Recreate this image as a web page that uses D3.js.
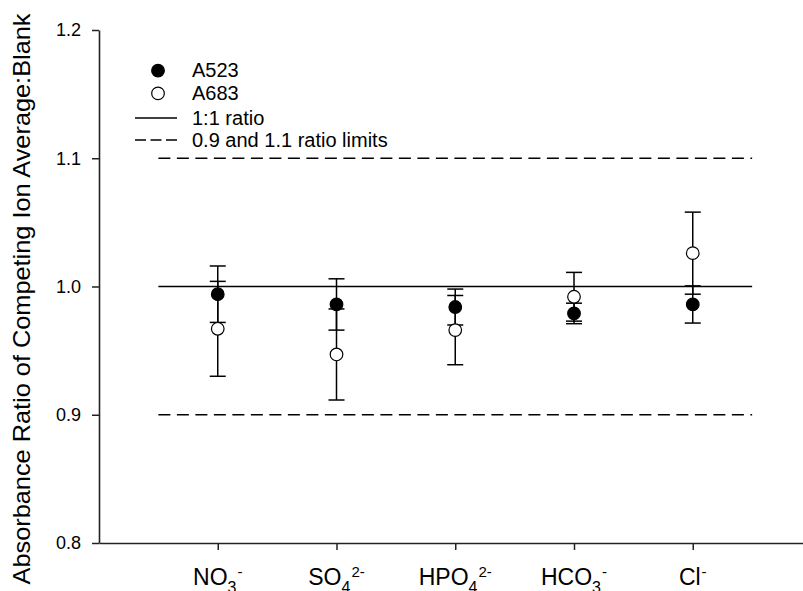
<!DOCTYPE html>
<html>
<head>
<meta charset="utf-8">
<script src="https://cdn.jsdelivr.net/npm/d3@7"></script>
<style>
  body { margin: 0; background: #fff; }
  svg { display: block; font-family: "Liberation Sans", Arial, sans-serif; }
</style>
</head>
<body>
<svg id="chart" width="803" height="591"></svg>
<script>
// categories and their chemical labels
const categories = ["NO3", "SO4", "HPO4", "HCO3", "Cl"];
const labelBase = ["NO", "SO", "HPO", "HCO", "Cl"];
const labelSub = ["3", "4", "4", "3", ""];
const labelSup = ["-", "2-", "2-", "-", "-"];

// A523 (filled) and A683 (open) ratios with error
const a523 = [0.994, 0.986, 0.984, 0.979, 0.986];
const a523Err = [0.022, 0.020, 0.014, 0.008, 0.0145];
const a683 = [0.967, 0.947, 0.966, 0.992, 1.026];
const a683Err = [0.037, 0.0355, 0.027, 0.019, 0.032];

const yTicks = [0.8, 0.9, 1.0, 1.1, 1.2];
const refLines = [
    { value: 1.0, dash: null, label: "1:1 ratio" },
    { value: 0.9, dash: "12,6.5", label: "0.9 and 1.1 ratio limits" },
    { value: 1.1, dash: "12,6.5", label: null }
];

const svg = d3.select("#chart");

const x = d3.scaleLinear().domain([0, 6]).range([99, 811.5]);
const y = d3.scaleLinear().domain([0.8, 1.2]).range([543, 30]);

// reference lines
svg.append("g")
    .selectAll("line")
    .data(refLines)
    .join("line")
    .attr("x1", x(0.5))
    .attr("x2", x(5.5))
    .attr("y1", d => y(d.value))
    .attr("y2", d => y(d.value))
    .attr("stroke", "#000")
    .attr("stroke-width", 1.3)
    .attr("stroke-dasharray", d => d.dash);

// axes
const yAxis = svg.append("g")
    .attr("transform", `translate(${x(0)},0)`)
    .call(d3.axisLeft(y).tickValues(yTicks).tickFormat(d3.format(".1f")).tickSize(7).tickPadding(11).tickSizeOuter(0));

const xAxis = svg.append("g")
    .attr("transform", `translate(0,${y(0.8)})`)
    .call(d3.axisBottom(x).tickValues([1, 2, 3, 4, 5]).tickFormat("").tickSize(7).tickSizeOuter(0));

[yAxis, xAxis].forEach(a => {
    a.selectAll("path, line").attr("stroke", "#222").attr("stroke-width", 1.5);
    a.select(".domain").attr("stroke-width", 1.6);
});
yAxis.selectAll("text")
    .attr("font-size", "18px")
    .attr("fill", "#000")
    .attr("font-family", "Liberation Sans, Arial, sans-serif");

// x labels with sub/superscripts
const xl = svg.append("g").attr("font-size", "23px").attr("fill", "#000");
categories.forEach((c, i) => {
    const t = xl.append("text")
        .attr("x", x(i + 1))
        .attr("y", 585)
        .attr("text-anchor", "middle");
    t.append("tspan").text(labelBase[i]);
    if (labelSub[i]) {
        t.append("tspan").attr("font-size", "16px").attr("dy", 8).text(labelSub[i]);
    }
    t.append("tspan")
        .attr("font-size", "15px")
        .attr("dy", labelSub[i] ? -16 : -8)
        .attr("dx", 1)
        .text(labelSup[i]);
});

// y title
svg.append("text")
    .attr("transform", "translate(30,299) rotate(-90)")
    .attr("text-anchor", "middle")
    .attr("font-size", "24px")
    .attr("textLength", 571)
    .attr("lengthAdjust", "spacingAndGlyphs")
    .text("Absorbance Ratio of Competing Ion Average:Blank");

// error bars
const series = [
    { name: "A523", values: a523, err: a523Err, fill: "#000" },
    { name: "A683", values: a683, err: a683Err, fill: "#fff" }
];
const capW = 8;
const bars = svg.append("g").attr("stroke", "#000").attr("stroke-width", 1.5);
series.forEach(s => {
    s.values.forEach((v, i) => {
        const cx = x(i + 1);
        const hi = y(v + s.err[i]), lo = y(v - s.err[i]);
        bars.append("line").attr("x1", cx).attr("x2", cx).attr("y1", hi).attr("y2", lo);
        bars.append("line").attr("x1", cx - capW).attr("x2", cx + capW).attr("y1", hi).attr("y2", hi);
        bars.append("line").attr("x1", cx - capW).attr("x2", cx + capW).attr("y1", lo).attr("y2", lo);
    });
});

// points
series.forEach(s => {
    svg.append("g")
        .selectAll("circle")
        .data(s.values)
        .join("circle")
        .attr("cx", (d, i) => x(i + 1))
        .attr("cy", d => y(d))
        .attr("r", 6.3)
        .attr("fill", s.fill)
        .attr("stroke", "#000")
        .attr("stroke-width", 1.2);
});

// legend
const legend = svg.append("g").attr("font-size", "20px");
series.forEach((s, i) => {
    const ly = 70.7 + i * 22.7;
    legend.append("circle").attr("cx", 158).attr("cy", ly).attr("r", 6.3)
        .attr("fill", s.fill).attr("stroke", "#000").attr("stroke-width", 1.2);
    legend.append("text").attr("x", 192).attr("y", ly + 6.5).text(s.name);
});
refLines.filter(d => d.label).forEach((d, i) => {
    const ly = 118 + i * 22;
    legend.append("line").attr("x1", 135).attr("x2", 177).attr("y1", ly).attr("y2", ly)
        .attr("stroke", "#000").attr("stroke-width", 1.3)
        .attr("stroke-dasharray", d.dash ? "11,4.5" : null);
    legend.append("text").attr("x", 192).attr("y", ly + 6.5).text(d.label);
});
</script>
</body>
</html>
